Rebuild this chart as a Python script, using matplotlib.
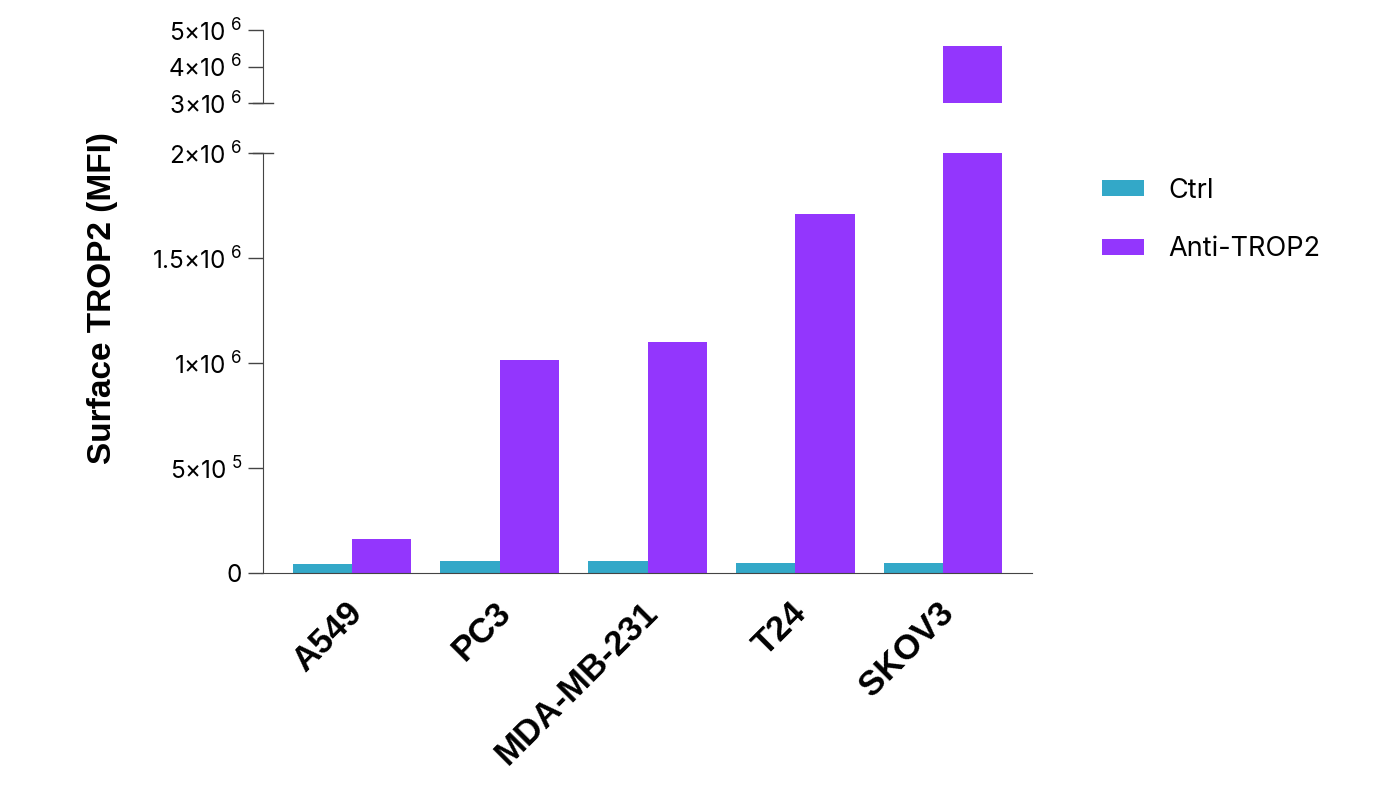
import matplotlib
matplotlib.use("Agg")
import matplotlib.pyplot as plt
import numpy as np

# data
cell_lines = ["A549", "PC3", "MDA-MB-231", "T24", "SKOV3"]
ctrl = [43000, 57000, 57000, 49000, 49000]
anti_trop2 = [160000, 1015000, 1100000, 1710000, 4550000]
series_names = ["Ctrl", "Anti-TROP2"]
lower_ticks = [0, 5e5, 1e6, 1.5e6, 2e6]
lower_labels = ["0", r"$5{\times}10^{\ 5}$", r"$1{\times}10^{\ 6}$", r"$1.5{\times}10^{\ 6}$", r"$2{\times}10^{\ 6}$"]
upper_ticks = [3e6, 4e6, 5e6]
upper_labels = [r"$3{\times}10^{\ 6}$", r"$4{\times}10^{\ 6}$", r"$5{\times}10^{\ 6}$"]

teal = "#33A8C8"
purple = "#9336FD"
tick_font = "Inter"
bold_font = "Liberation Sans"

plt.rcParams["font.family"] = [tick_font, "DejaVu Sans"]
plt.rcParams["mathtext.fontset"] = "custom"
plt.rcParams["mathtext.rm"] = tick_font
plt.rcParams["mathtext.it"] = tick_font
plt.rcParams["mathtext.bf"] = tick_font

fig = plt.figure(figsize=(14, 7.87), dpi=100)
W, H = 1400, 787
left, right = 263 / W, 1032 / W
ax = fig.add_axes([left, 1 - 573 / H, right - left, (573 - 153) / H])
ax_up = fig.add_axes([left, 1 - 103 / H, right - left, (103 - 30) / H], sharex=ax)

x = np.arange(len(cell_lines))
w = 0.4
for a in (ax, ax_up):
    a.bar(x - w / 2, ctrl, width=w, color=teal, label=series_names[0])
    a.bar(x + w / 2, anti_trop2, width=w, color=purple, label=series_names[1])
    a.spines["top"].set_visible(False)
    a.spines["right"].set_visible(False)
    a.spines["left"].set_color("#444444")
    a.tick_params(axis="y", direction="out", length=11, width=1, color="#444444",
                  labelsize=17.5, pad=4)

ax.set_xlim(-0.6, 4.6)
ax.set_ylim(0, 2e6)
ax.set_yticks(lower_ticks)
ax.set_yticklabels(lower_labels)
ax.spines["bottom"].set_color("#444444")
ax.spines["bottom"].set_bounds(-0.615, 4.6)
ax.tick_params(axis="x", length=0)
ax.set_xticks(x)
ax.set_xticklabels([])

ax_up.set_ylim(3e6, 5e6)
ax_up.set_yticks(upper_ticks)
ax_up.set_yticklabels(upper_labels)
ax_up.spines["bottom"].set_visible(False)
ax_up.tick_params(axis="x", bottom=False, labelbottom=False)

# break marks across the y axis
half = 10 / (right - left) / W
ax.plot([-half, half], [1, 1], transform=ax.transAxes, color="#444444", lw=1, clip_on=False)
ax_up.plot([-half, half], [0, 0], transform=ax_up.transAxes, color="#444444", lw=1, clip_on=False)

# category labels
for xi, name in zip(x, cell_lines):
    ax.text(xi - 0.04, -0.055, name, transform=ax.get_xaxis_transform(),
            rotation=45, ha="right", va="top", rotation_mode="anchor",
            fontsize=25, fontweight="bold", family=bold_font)

fig.text(103 / W, 1 - 298 / H, "Surface TROP2 (MFI)", rotation=90, ha="center", va="center",
         fontsize=24, fontweight="bold", family=bold_font)

handles, labels = ax.get_legend_handles_labels()
fig.legend(handles, labels, loc="upper left", bbox_to_anchor=(1102 / W, 1 - 178 / H),
           frameon=False, fontsize=19.5, handlelength=1.55, handleheight=0.53,
           handletextpad=0.9, labelspacing=1.2, borderpad=0, borderaxespad=0)

fig.savefig("out.png", dpi=100)
